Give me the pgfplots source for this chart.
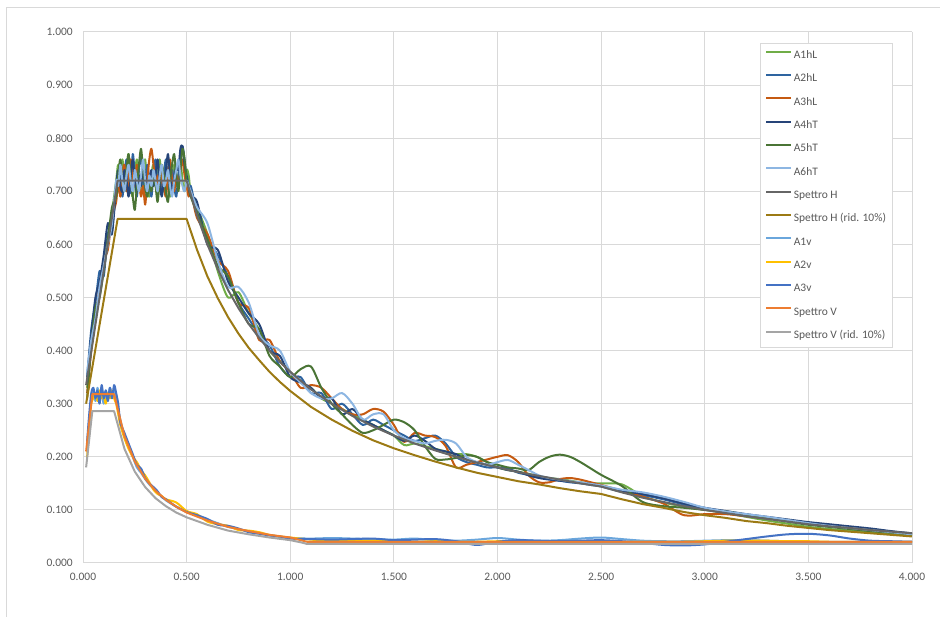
\documentclass[border=0pt]{standalone}
\usepackage{pgfplots}
\usepackage{pgfplotstable}
\pgfplotsset{compat=1.18}
\usepackage{fontspec}
\setmainfont{Carlito}

\definecolor{gridgray}{HTML}{D9D9D9}
\definecolor{ticktext}{HTML}{595959}
\definecolor{cA1h}{HTML}{70AD47}
\definecolor{cA2h}{HTML}{2E64A0}
\definecolor{cA3h}{HTML}{C55A11}
\definecolor{cA4h}{HTML}{264478}
\definecolor{cA5h}{HTML}{4A7435}
\definecolor{cA6h}{HTML}{8DB6E2}
\definecolor{cSH}{HTML}{666666}
\definecolor{cSHr}{HTML}{9C7A14}
\definecolor{cA1v}{HTML}{6AA6DC}
\definecolor{cA2v}{HTML}{FFC000}
\definecolor{cA3v}{HTML}{4472C4}
\definecolor{cSV}{HTML}{ED7D31}
\definecolor{cSVr}{HTML}{A5A5A5}

\pgfplotstableread{
x a1 a2 a3 a4 a5 a6
0.02 0.33 0.35 0.32 0.34 0.31 0.36
0.04 0.42 0.44 0.40 0.43 0.41 0.42
0.06 0.47 0.49 0.46 0.50 0.48 0.46
0.08 0.51 0.55 0.52 0.53 0.50 0.52
0.10 0.56 0.54 0.57 0.58 0.55 0.56
0.12 0.60 0.62 0.59 0.64 0.61 0.60
0.14 0.66 0.63 0.65 0.62 0.67 0.64
0.16 0.72 0.70 0.68 0.71 0.69 0.72
0.17 0.75 0.70 0.72 0.74 0.73 0.71
0.18 0.71 0.74 0.69 0.71 0.76 0.75
0.19 0.76 0.69 0.73 0.70 0.72 0.72
0.20 0.72 0.73 0.75 0.74 0.70 0.70
0.21 0.74 0.76 0.70 0.72 0.74 0.73
0.22 0.77 0.71 0.72 0.69 0.77 0.75
0.23 0.71 0.70 0.76 0.73 0.72 0.72
0.24 0.69 0.77 0.73 0.76 0.69 0.70
0.25 0.73 0.73 0.71 0.72 0.665 0.74
0.26 0.76 0.69 0.75 0.70 0.71 0.72
0.27 0.72 0.74 0.72 0.73 0.75 0.70
0.28 0.70 0.77 0.69 0.71 0.78 0.73
0.29 0.74 0.72 0.71 0.75 0.74 0.76
0.30 0.76 0.70 0.675 0.73 0.71 0.72
0.31 0.71 0.75 0.72 0.70 0.69 0.70
0.32 0.69 0.72 0.76 0.72 0.72 0.73
0.33 0.73 0.69 0.78 0.74 0.70 0.71
0.34 0.75 0.73 0.75 0.71 0.73 0.74
0.35 0.71 0.76 0.71 0.73 0.71 0.72
0.36 0.73 0.71 0.73 0.76 0.68 0.70
0.37 0.76 0.74 0.70 0.72 0.72 0.73
0.38 0.72 0.70 0.74 0.69 0.75 0.75
0.39 0.70 0.73 0.71 0.72 0.73 0.71
0.40 0.74 0.76 0.69 0.74 0.70 0.72
0.41 0.71 0.72 0.73 0.77 0.68 0.74
0.42 0.69 0.70 0.76 0.73 0.72 0.71
0.43 0.72 0.74 0.72 0.70 0.75 0.69
0.44 0.75 0.71 0.70 0.72 0.77 0.72
0.45 0.71 0.69 0.73 0.75 0.73 0.74
0.46 0.73 0.73 0.71 0.74 0.70 0.76
0.47 0.76 0.77 0.74 0.78 0.74 0.73
0.48 0.72 0.785 0.76 0.785 0.78 0.71
0.49 0.70 0.76 0.73 0.75 0.76 0.70
0.50 0.74 0.72 0.71 0.73 0.72 0.72
0.51 0.73 0.70 0.69 0.71 0.71 0.71
0.52 0.70 0.71 0.70 0.69 0.69 0.70
0.55 0.67 0.66 0.65 0.68 0.66 0.67
0.60 0.62 0.61 0.62 0.60 0.61 0.64
0.65 0.55 0.58 0.57 0.59 0.56 0.57
0.70 0.50 0.54 0.55 0.53 0.54 0.52
0.75 0.51 0.49 0.49 0.50 0.49 0.52
0.80 0.47 0.46 0.48 0.47 0.45 0.49
0.85 0.44 0.43 0.42 0.45 0.44 0.43
0.90 0.40 0.41 0.42 0.40 0.39 0.41
0.95 0.38 0.37 0.38 0.39 0.37 0.40
1.00 0.36 0.35 0.36 0.35 0.35 0.36
1.05 0.34 0.35 0.33 0.34 0.365 0.34
1.10 0.33 0.32 0.335 0.33 0.37 0.32
1.15 0.31 0.32 0.33 0.31 0.33 0.31
1.20 0.30 0.29 0.31 0.31 0.30 0.31
1.25 0.29 0.30 0.29 0.28 0.28 0.32
1.30 0.28 0.28 0.28 0.29 0.26 0.30
1.35 0.27 0.26 0.28 0.27 0.245 0.27
1.40 0.26 0.27 0.29 0.26 0.25 0.28
1.45 0.25 0.26 0.285 0.25 0.26 0.28
1.50 0.24 0.25 0.26 0.24 0.27 0.25
1.55 0.222 0.24 0.228 0.23 0.265 0.235
1.60 0.225 0.23 0.245 0.24 0.25 0.23
1.65 0.22 0.235 0.24 0.23 0.22 0.225
1.70 0.215 0.24 0.237 0.215 0.196 0.23
1.75 0.21 0.225 0.22 0.21 0.195 0.232
1.80 0.205 0.20 0.18 0.205 0.198 0.225
1.85 0.205 0.19 0.185 0.195 0.203 0.20
1.90 0.20 0.185 0.19 0.19 0.20 0.19
1.95 0.19 0.18 0.195 0.185 0.19 0.185
2.00 0.18 0.18 0.20 0.18 0.185 0.19
2.05 0.175 0.178 0.203 0.175 0.18 0.194
2.10 0.172 0.17 0.19 0.172 0.178 0.185
2.15 0.168 0.166 0.165 0.165 0.175 0.175
2.20 0.163 0.162 0.152 0.16 0.19 0.165
2.25 0.16 0.158 0.152 0.157 0.20 0.16
2.30 0.158 0.155 0.158 0.155 0.204 0.157
2.35 0.155 0.152 0.16 0.153 0.20 0.154
2.40 0.152 0.15 0.157 0.151 0.19 0.152
2.45 0.150 0.147 0.152 0.149 0.178 0.149
2.50 0.150 0.144 0.147 0.145 0.166 0.146
2.60 0.148 0.134 0.136 0.136 0.145 0.138
2.70 0.126 0.128 0.125 0.130 0.115 0.133
2.80 0.114 0.120 0.112 0.122 0.107 0.125
2.90 0.106 0.110 0.090 0.112 0.104 0.115
3.00 0.100 0.101 0.092 0.104 0.100 0.104
3.10 0.094 0.095 0.092 0.098 0.097 0.097
3.20 0.087 0.090 0.088 0.092 0.091 0.092
3.30 0.080 0.085 0.084 0.087 0.085 0.087
3.40 0.074 0.080 0.079 0.082 0.078 0.081
3.50 0.068 0.074 0.074 0.077 0.072 0.075
3.60 0.064 0.069 0.071 0.073 0.068 0.070
3.70 0.061 0.066 0.067 0.069 0.064 0.066
3.80 0.058 0.062 0.063 0.065 0.060 0.062
3.90 0.055 0.058 0.059 0.060 0.057 0.058
4.00 0.052 0.055 0.055 0.056 0.053 0.054
}\Hrec

\pgfplotstableread{
x sh shr
0.015 0.335 0.300
0.167 0.720 0.648
0.50 0.720 0.648
0.55 0.655 0.590
0.60 0.600 0.540
0.65 0.554 0.499
0.70 0.514 0.463
0.75 0.480 0.432
0.80 0.450 0.405
0.85 0.424 0.382
0.90 0.400 0.360
0.95 0.379 0.341
1.00 0.360 0.324
1.10 0.327 0.294
1.20 0.300 0.270
1.30 0.277 0.249
1.40 0.257 0.231
1.50 0.240 0.216
1.60 0.225 0.203
1.70 0.212 0.191
1.80 0.200 0.180
1.90 0.189 0.170
2.00 0.180 0.162
2.10 0.171 0.154
2.20 0.164 0.148
2.30 0.157 0.141
2.40 0.150 0.135
2.50 0.144 0.130
2.60 0.133 0.120
2.70 0.123 0.111
2.80 0.115 0.104
2.90 0.107 0.096
3.00 0.100 0.090
3.10 0.094 0.085
3.20 0.088 0.079
3.30 0.083 0.075
3.40 0.078 0.070
3.50 0.073 0.066
3.60 0.069 0.062
3.70 0.066 0.059
3.80 0.062 0.056
3.90 0.059 0.053
4.00 0.056 0.050
}\SpH

\pgfplotstableread{
x v1 v2 v3
0.02 0.22 0.20 0.23
0.03 0.27 0.26 0.28
0.04 0.31 0.30 0.32
0.05 0.325 0.31 0.33
0.06 0.305 0.32 0.31
0.07 0.33 0.305 0.325
0.08 0.31 0.325 0.30
0.09 0.32 0.31 0.335
0.10 0.30 0.315 0.31
0.11 0.325 0.30 0.325
0.12 0.31 0.32 0.305
0.13 0.33 0.31 0.33
0.14 0.315 0.325 0.31
0.15 0.325 0.31 0.335
0.16 0.31 0.30 0.32
0.17 0.29 0.28 0.30
0.18 0.27 0.26 0.265
0.20 0.24 0.235 0.245
0.22 0.22 0.215 0.225
0.24 0.20 0.20 0.205
0.26 0.18 0.19 0.185
0.28 0.17 0.175 0.178
0.30 0.158 0.165 0.16
0.32 0.148 0.152 0.15
0.34 0.14 0.138 0.143
0.36 0.132 0.13 0.135
0.38 0.125 0.126 0.124
0.40 0.118 0.12 0.12
0.45 0.106 0.114 0.106
0.50 0.097 0.098 0.096
0.55 0.09 0.092 0.09
0.60 0.082 0.078 0.083
0.65 0.075 0.073 0.072
0.70 0.068 0.070 0.070
0.75 0.064 0.062 0.065
0.80 0.060 0.061 0.058
0.85 0.056 0.058 0.055
0.90 0.052 0.053 0.052
0.95 0.049 0.050 0.050
1.00 0.047 0.048 0.046
1.10 0.046 0.044 0.045
1.20 0.047 0.042 0.044
1.30 0.046 0.041 0.045
1.40 0.045 0.042 0.046
1.50 0.044 0.041 0.043
1.60 0.046 0.040 0.044
1.70 0.043 0.041 0.045
1.80 0.042 0.040 0.041
1.90 0.044 0.040 0.034
2.00 0.047 0.041 0.040
2.10 0.044 0.041 0.043
2.20 0.042 0.040 0.042
2.30 0.043 0.041 0.041
2.40 0.046 0.040 0.042
2.50 0.048 0.041 0.043
2.60 0.045 0.040 0.041
2.70 0.042 0.040 0.038
2.80 0.041 0.040 0.034
2.90 0.041 0.040 0.033
3.00 0.042 0.041 0.035
3.10 0.043 0.042 0.040
3.20 0.043 0.042 0.045
3.30 0.042 0.042 0.050
3.40 0.041 0.041 0.054
3.50 0.040 0.041 0.055
3.60 0.040 0.040 0.052
3.70 0.040 0.040 0.046
3.80 0.040 0.040 0.042
3.90 0.040 0.040 0.041
4.00 0.040 0.040 0.040
}\Vrec

\pgfplotstableread{
x sv svr
0.015 0.210 0.180
0.045 0.318 0.286
0.15 0.318 0.286
0.20 0.239 0.215
0.25 0.191 0.172
0.30 0.159 0.143
0.35 0.136 0.122
0.40 0.119 0.107
0.45 0.106 0.095
0.50 0.095 0.086
0.60 0.080 0.072
0.70 0.068 0.061
0.80 0.060 0.054
0.90 0.053 0.048
1.00 0.048 0.043
1.05 0.043 0.039
1.08 0.040 0.036
4.00 0.040 0.036
}\SpV

\begin{document}
\begin{tikzpicture}
\path[use as bounding box] (-62.25pt,-40.5pt) rectangle (642.75pt,422.25pt);
\begin{axis}[
  at={(0pt,0pt)}, anchor=south west,
  scale only axis,
  width=621.75pt, height=398.25pt,
  xmin=0, xmax=4, ymin=0, ymax=1,
  xtick={0,0.5,1,1.5,2,2.5,3,3.5,4},
  ytick={0,0.1,0.2,0.3,0.4,0.5,0.6,0.7,0.8,0.9,1},
  grid=major,
  major grid style={draw=gridgray, line width=0.75pt},
  axis line style={draw=none},
  major tick length=0pt,
  tick label style={font=\fontsize{8.6}{10}\selectfont, text=ticktext},
  yticklabel style={inner sep=0pt, xshift=-7.5pt},
  xticklabel style={inner sep=0pt, yshift=-7.5pt},
  /pgf/number format/.cd, fixed, fixed zerofill, precision=3, use period, assume math mode=true,
  /pgfplots/.cd,
  legend cell align=left,
  legend style={at={(0.977,0.979)}, anchor=north east, draw=gridgray, fill=white,
    font=\fontsize{8.6}{10}\selectfont, text=ticktext, inner xsep=4pt, inner ysep=4pt,
    row sep=7.5pt, nodes={inner sep=1pt, text height=6.2pt, text depth=1.8pt}},
  legend image code/.code={\draw[#1] (0pt,2.8pt) -- (18.75pt,2.8pt);},
  every axis plot/.append style={line width=1.5pt, line join=round},
]
\addplot[cA1h, smooth, tension=0.5] table[x=x, y=a1] {\Hrec};
\addlegendentry{A1hL}
\addplot[cA2h, smooth, tension=0.5] table[x=x, y=a2] {\Hrec};
\addlegendentry{A2hL}
\addplot[cA3h, smooth, tension=0.5] table[x=x, y=a3] {\Hrec};
\addlegendentry{A3hL}
\addplot[cA4h, smooth, tension=0.5] table[x=x, y=a4] {\Hrec};
\addlegendentry{A4hT}
\addplot[cA5h, smooth, tension=0.5] table[x=x, y=a5] {\Hrec};
\addlegendentry{A5hT}
\addplot[cA6h, smooth, tension=0.5] table[x=x, y=a6] {\Hrec};
\addlegendentry{A6hT}
\addplot[cSH] table[x=x, y=sh] {\SpH};
\addlegendentry{Spettro H}
\addplot[cSHr] table[x=x, y=shr] {\SpH};
\addlegendentry{Spettro H (rid. 10\%)}
\addplot[cA1v, smooth, tension=0.5] table[x=x, y=v1] {\Vrec};
\addlegendentry{A1v}
\addplot[cA2v, smooth, tension=0.5] table[x=x, y=v2] {\Vrec};
\addlegendentry{A2v}
\addplot[cA3v, smooth, tension=0.5] table[x=x, y=v3] {\Vrec};
\addlegendentry{A3v}
\addplot[cSV] table[x=x, y=sv] {\SpV};
\addlegendentry{Spettro V}
\addplot[cSVr] table[x=x, y=svr] {\SpV};
\addlegendentry{Spettro V (rid. 10\%)}
\end{axis}
\draw[gridgray, line width=0.75pt] (-57pt,-40.5pt) -- (-57pt,416.25pt) -- (642.75pt,416.25pt);
\end{tikzpicture}
\end{document}
